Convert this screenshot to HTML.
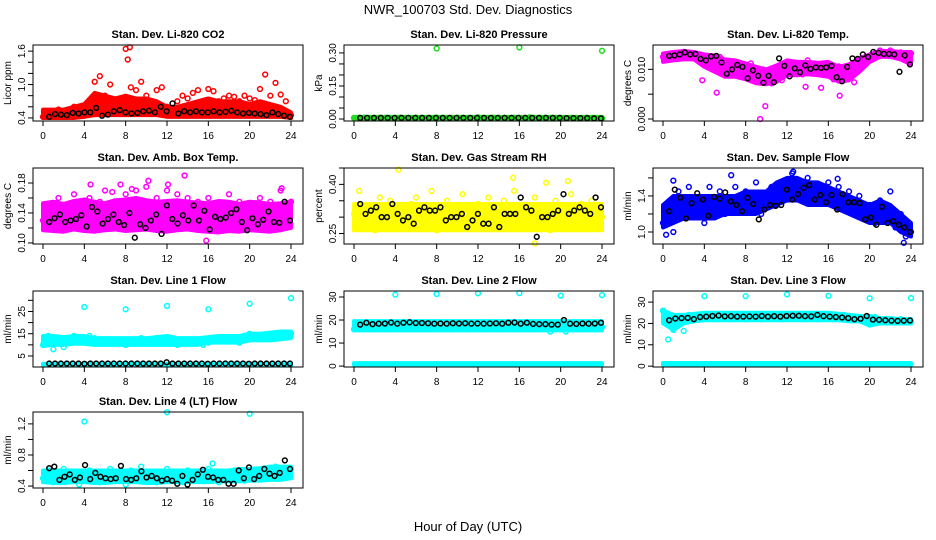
<!DOCTYPE html>
<html><head><meta charset="utf-8"><style>
body{margin:0;background:#fff;}
svg{display:block;font-family:"Liberation Sans",sans-serif;}
</style></head><body>
<svg id="chart" width="936" height="540" viewBox="0 0 936 540">
<rect width="936" height="540" fill="#fff"/>
<text x="468" y="14" text-anchor="middle" font-size="13">NWR_100703 Std. Dev. Diagnostics</text>
<text x="468" y="531" text-anchor="middle" font-size="13">Hour of Day (UTC)</text>
</svg>
<script>
// ---- data (hour-of-day values) ----
const hourTicks=[0,4,8,12,16,20,24];
// P1 CO2
const co2Lo=[.4,.4,.4,.4,.42,.45,.45,.45,.45,.45,.45,.45,.42,.42,.42,.42,.42,.42,.42,.42,.42,.42,.42,.42,.4];
const co2Hi=[.55,.55,.55,.6,.65,.85,.8,.75,.8,.75,.75,.7,.6,.6,.65,.7,.75,.7,.7,.7,.65,.7,.65,.6,.5];
const co2Pts=[.42,.5,.45,.55,.5,.48,.6,.55,.62,.5,1.05,1.15,.8,1.0,.7,.75,1.64,.95,.9,1.05,.8,.7,.9,.95,.6,.55,.7,.8,.75,.85,.9,.7,.92,.88,.7,.75,.8,.78,.7,.8,.75,.72,.92,1.18,.8,1.03,.82,.7,.45];
const co2OutX=[8.2,8.4];const co2OutY=[1.45,1.67];
const co2Blk=[.42,.47,.46,.45,.49,.48,.5,.5,.58,.44,.46,.52,.54,.5,.48,.49,.52,.53,.5,.6,.52,.66,.48,.52,.5,.52,.5,.5,.52,.5,.51,.53,.5,.48,.49,.48,.47,.45,.5,.47,.44,.42];
// P2 Pressure
const prLo=[0,0,0,0,0,0,0,0,0,0,0,0,0,0,0,0,0,0,0,0,0,0,0,0,0];
const prHi=[.01,.01,.01,.01,.01,.01,.01,.01,.01,.01,.01,.01,.01,.01,.01,.01,.01,.01,.01,.01,.01,.01,.01,.01,.01];
const prPts=[.005,.005,.006,.005,.005,.006,.005,.005,.005,.006,.005,.005,.006,.005,.005,.005,.006,.005,.005,.005,.006,.005,.005,.005,.008,.005,.005,.006,.005,.005,.005,.006,.005,.005,.008,.005,.005,.006,.005,.005,.005,.004,.005,.005,.004,.006,.005,.004,.003];
const prOutX=[8,16,24];const prOutY=[.32,.325,.31];
const prBlk=[.005,.005,.005,.005,.005,.005,.005,.005,.005,.005,.005,.005,.005,.005,.005,.005,.005,.005,.005,.005,.005,.005,.005,.005,.005,.005,.005,.005,.005,.005,.004,.004,.004,.004,.003,.003];
// P3 Li-820 temp
const tpLo=[.0115,.0118,.012,.012,.0105,.0095,.0085,.0085,.008,.0072,.007,.0075,.0088,.0088,.009,.0088,.0085,.0075,.0078,.0095,.0115,.0125,.0125,.012,.011];
const tpHi=[.0132,.0135,.0137,.0135,.013,.0128,.012,.0118,.0112,.0105,.01,.0108,.0118,.0115,.0115,.0113,.0115,.0105,.011,.0122,.013,.0137,.0137,.0135,.0135];
const tpPts=[.0125,.013,.0132,.0128,.0135,.013,.0128,.0125,.0115,.0108,.012,.0125,.0095,.0105,.009,.0085,.0095,.0112,.008,.0088,.0078,.0072,.0085,.0078,.0115,.0095,.0112,.009,.0118,.0098,.0106,.0092,.0112,.008,.0106,.0078,.0084,.0074,.0098,.0112,.0122,.0132,.0138,.0132,.0138,.0128,.0134,.0118,.0132];
const tpOutX=[3.8,5.2,9.4,9.9,17.1,13.8,15.3];const tpOutY=[.0078,.0053,0,.0026,.0047,.0065,.0063];
const tpBlk=[.0127,.0128,.013,.0134,.013,.0131,.0121,.0118,.0126,.0127,.0114,.0091,.01,.0109,.0105,.0082,.0098,.0087,.0073,.0087,.0074,.0122,.0107,.0086,.0102,.0094,.0108,.0101,.0104,.0103,.0104,.0107,.0084,.0076,.0105,.0122,.0121,.013,.0125,.0135,.0133,.0131,.0131,.013,.0095,.0128,.011];
// P4 Amb box temp
const abLo=[.117,.116,.115,.118,.116,.115,.117,.118,.116,.117,.118,.116,.115,.117,.118,.116,.115,.114,.116,.115,.117,.116,.115,.117,.12];
const abHi=[.153,.155,.152,.156,.158,.155,.153,.157,.158,.16,.157,.155,.156,.157,.155,.154,.153,.156,.155,.152,.155,.154,.152,.153,.155];
const abPts=[.13,.15,.12,.16,.12,.14,.165,.12,.15,.16,.13,.155,.17,.14,.15,.12,.165,.13,.17,.14,.175,.12,.16,.15,.17,.13,.165,.14,.16,.125,.155,.14,.16,.13,.15,.12,.165,.13,.155,.12,.15,.14,.16,.13,.155,.12,.17,.14,.155];
const abOutX=[4.6,7.5,8.6,10.2,12.1,13.7,15.8,6.7,23.1];const abOutY=[.178,.178,.172,.183,.178,.19,.103,.168,.173];
const abBlk=[.128,.133,.138,.128,.13,.132,.137,.122,.148,.142,.126,.132,.138,.128,.124,.14,.107,.125,.12,.13,.138,.112,.15,.132,.126,.137,.13,.15,.13,.143,.118,.135,.132,.134,.14,.145,.128,.117,.133,.125,.131,.142,.128,.127,.155,.13];
// P5 RH
const rhLo=[.26,.26,.26,.26,.26,.26,.26,.26,.26,.26,.26,.26,.26,.26,.26,.26,.26,.26,.26,.26,.26,.26,.26,.26,.26];
const rhHi=[.34,.34,.34,.34,.34,.34,.34,.34,.34,.34,.34,.34,.34,.34,.34,.34,.34,.34,.34,.34,.34,.34,.34,.34,.34];
const rhPts=[.31,.38,.28,.33,.26,.36,.3,.35,.27,.33,.29,.34,.36,.28,.31,.38,.26,.33,.35,.3,.27,.37,.32,.28,.34,.3,.36,.27,.32,.35,.29,.38,.33,.27,.3,.36,.29,.33,.26,.35,.31,.28,.37,.3,.34,.27,.35,.32,.3];
const rhOutX=[4.3,15.4,20.7,17.5,18.6];const rhOutY=[.445,.42,.41,.22,.405];
const rhBlk=[.34,.31,.32,.33,.3,.3,.34,.31,.29,.3,.28,.32,.33,.32,.32,.33,.29,.3,.3,.31,.27,.29,.31,.28,.28,.33,.27,.31,.31,.31,.36,.33,.32,.24,.3,.3,.31,.32,.37,.31,.32,.33,.32,.31,.36,.33];
// P6 Sample flow
const sfLo=[1.05,1.1,1.15,1.15,1.15,1.15,1.2,1.2,1.2,1.2,1.25,1.3,1.35,1.35,1.3,1.3,1.3,1.25,1.2,1.15,1.1,1.1,1.1,1.0,.95];
const sfHi=[1.3,1.4,1.4,1.4,1.4,1.4,1.4,1.4,1.45,1.45,1.45,1.55,1.6,1.6,1.55,1.55,1.5,1.45,1.4,1.35,1.3,1.35,1.3,1.2,1.1];
const sfPts=[1.1,1.3,1.0,1.45,1.25,1.5,1.2,1.35,1.1,1.5,1.3,1.45,1.2,1.3,1.5,1.25,1.45,1.35,1.55,1.2,1.4,1.5,1.3,1.45,1.55,1.65,1.5,1.4,1.6,1.35,1.5,1.4,1.55,1.3,1.5,1.35,1.45,1.2,1.4,1.15,1.3,1.1,1.35,1.2,1.45,1.05,1.2,.95,1.0];
const sfOutX=[.3,1,6.6,12.6,16.9,23.3];const sfOutY=[.97,1.57,1.63,1.67,1.59,.88];
const sfBlk=[1.23,1.47,1.38,1.15,1.32,1.43,1.36,1.18,1.39,1.37,1.44,1.34,1.3,1.23,1.38,1.31,1.14,1.25,1.3,1.29,1.3,1.47,1.36,1.42,1.49,1.52,1.36,1.41,1.33,1.41,1.25,1.42,1.33,1.33,1.32,1.14,1.16,1.08,1.28,1.1,1.12,1.08,1.05,1.0];
// P7 Line 1
const l1Lo=[9.5,10,10,10.5,10.5,10,10,10,10,10,10,10,10,10,10,10,11,11,11,11,12,12,12,12.5,13];
const l1Hi=[14,14,13.5,14,14,13,13,13,13,13,13,13.5,14,13,13,13,13.5,14,14,14,15,15,15.5,16,16];
const l1Pts=[10,14,8,13,9,12,14,13,12,14,13,12,11,12,11,12,10,12,11,13,11,12,13,11,12,13,10,11,12,11,12,10,11,12,13,12,13,12,11,14,15,13,14,13,15,14,15,14,15];
const l1OutX=[4,8,12,16,20,24];const l1OutY=[27,26,27.5,26,28.5,31];
const l1Lo2=[.8,.8,.8,.8,.8,.8,.8,.8,.8,.8,.8,.8,.8,.8,.8,.8,.8,.8,.8,.8,.8,.8,.8,.8,.8];
const l1Hi2=[1.5,1.5,1.5,1.5,1.5,1.5,1.5,1.5,1.5,1.5,1.5,1.5,1.5,1.5,1.5,1.5,1.5,1.5,1.5,1.5,1.5,1.5,1.5,1.5,1.5];
const l1Blk=[1.6,1.6,1.6,1.6,1.6,1.6,1.5,1.6,1.6,1.6,1.6,1.6,1.6,1.6,1.6,1.6,1.6,1.6,1.6,1.6,2.2,1.6,1.6,1.6,1.6,1.6,1.6,1.5,1.6,1.6,1.6,1.6,1.6,1.6,1.5,1.6,1.6,1.6,1.6,1.6,1.6,1.6];
// P8 Line 2
const l2Lo=[15.5,15.5,15.5,15.5,15.5,15.5,15.5,15.5,15.5,15.5,15.5,15.5,15.5,15.5,15.5,15.5,15.5,15.5,15.5,15.5,15.5,15.5,15.5,15.5,15.5];
const l2Hi=[19.5,19.5,19.5,19.5,19.5,19.5,19.5,19.5,19.5,19.5,19.5,19.5,19.5,19.5,19.5,19.5,19.5,19.5,19.5,19.5,19.5,19.5,19.5,19.5,19.5];
const l2Pts=[16,18,17,16,18,17,16,19,17,16,18,17,16,18,17,16,18,17,19,16,17,18,16,17,18,16,17,19,17,16,18,17,16,18,17,16,17,18,15,17,16,15,18,17,16,18,17,16,17];
const l2OutX=[4,8,12,16,20,24];const l2OutY=[31,31.3,31.6,31.7,30.6,30.8];
const l2Lo2=[.5,.5,.5,.5,.5,.5,.5,.5,.5,.5,.5,.5,.5,.5,.5,.5,.5,.5,.5,.5,.5,.5,.5,.5,.5];
const l2Hi2=[1.3,1.3,1.3,1.3,1.3,1.3,1.3,1.3,1.3,1.3,1.3,1.3,1.3,1.3,1.3,1.3,1.3,1.3,1.3,1.3,1.3,1.3,1.3,1.3,1.3];
const l2Blk=[18,18.8,18.2,18.4,18.5,18.9,18.4,18.8,19,18.7,18.7,18.6,18.4,18.5,18.4,18.6,18.5,18.6,18.4,18.5,18.4,18.5,18.6,18.4,18.8,18.9,18.4,18.8,18.3,18.2,18.2,18,18,20,18.4,18.3,18.5,18.4,18.5,18.8];
// P9 Line 3
const l3Lo=[20,17,20,21,21.5,21.5,21.5,21.5,21.5,21.5,21.5,21.5,21.5,21.5,21.5,21.5,21.5,21.5,21,21,19,20,20,20,20];
const l3Hi=[26,24,24,24.5,25,25,25,25,25,25,25,25,25,25,25,25,25,24.5,24,23.5,23.5,22.5,22.5,22,22];
const l3Pts=[26,12.5,17,22,16.5,24,23,22,24,23,22,24,23,22,24,23,22,23,24,22,23,24,23,22,23,24,23,22,24,23,22,24,23,22,23,24,22,23,22,21,19.5,23,21,22,20.5,21,22,21,21];
const l3OutX=[4,8,12,16,20,24];const l3OutY=[32.8,32.8,33.6,32.9,31.8,31.9];
const l3Lo2=[.5,.5,.5,.5,.5,.5,.5,.5,.5,.5,.5,.5,.5,.5,.5,.5,.5,.5,.5,.5,.5,.5,.5,.5,.5];
const l3Hi2=[1.5,1.5,1.5,1.5,1.5,1.5,1.5,1.5,1.5,1.5,1.5,1.5,1.5,1.5,1.5,1.5,1.5,1.5,1.5,1.5,1.5,1.5,1.5,1.5,1.5];
const l3Blk=[21.5,22.3,22.5,22.6,22,23,23.2,23.5,23.7,23.3,23.4,23.2,23.2,23.3,23.2,23.5,23.2,23.4,23.2,23.5,23.6,23.6,23.4,23.3,24,23.4,23.2,23,22.8,22.5,22,22.2,23.5,21.8,21.7,21.5,21.3,21.2,21.3,21.4];
// P10 Line 4
const l4Lo=[.45,.44,.44,.45,.45,.44,.44,.45,.45,.45,.44,.44,.45,.45,.45,.45,.45,.46,.46,.46,.47,.47,.48,.48,.5];
const l4Hi=[.6,.6,.6,.6,.6,.6,.6,.6,.6,.6,.6,.6,.6,.6,.6,.6,.6,.6,.6,.62,.62,.63,.65,.65,.65];
const l4Pts=[.5,.6,.45,.55,.62,.48,.58,.42,.55,.6,.5,.45,.58,.62,.5,.55,.42,.6,.52,.65,.48,.58,.45,.55,.62,.5,.57,.45,.6,.5,.55,.48,.62,.55,.45,.58,.5,.6,.52,.47,.6,.55,.5,.62,.55,.65,.58,.6,.62];
const l4OutX=[4,12,20,16.4];const l4OutY=[1.23,1.35,1.33,.69];
const l4Blk=[.63,.65,.48,.52,.55,.48,.51,.67,.49,.57,.52,.5,.49,.5,.66,.49,.48,.5,.59,.51,.53,.5,.47,.49,.47,.43,.53,.42,.48,.55,.61,.52,.51,.48,.48,.43,.43,.6,.5,.64,.49,.53,.62,.56,.53,.57,.73,.62];

// ---- panel config ----
const panels=[
 {name:'co2',title:'Stan. Dev. Li-820 CO2',ylab:'Licor ppm',col:0,row:0,ylim:[.345,1.71],ticks:[.4,.6,.8,1,1.2,1.4,1.6],labels:['0.4','1.0','1.6'],color:'#ff0000',bands:[[co2Lo,co2Hi]],pts:co2Pts,ox:co2OutX,oy:co2OutY,blk:co2Blk},
 {name:'pressure',title:'Stan. Dev. Li-820 Pressure',ylab:'kPa',col:1,row:0,ylim:[-.009,.336],ticks:[0,.05,.1,.15,.2,.25,.3],labels:['0.00','0.15','0.30'],color:'#22dd22',bands:[[prLo,prHi]],pts:prPts,ox:prOutX,oy:prOutY,blk:prBlk},
 {name:'li820-temp',title:'Stan. Dev. Li-820 Temp.',ylab:'degrees C',col:2,row:0,ylim:[-.0004,.0149],ticks:[0,.005,.01],labels:['0.000','0.010'],color:'#ff00ff',bands:[[tpLo,tpHi]],pts:tpPts,ox:tpOutX,oy:tpOutY,blk:tpBlk},
 {name:'amb-box-temp',title:'Stan. Dev. Amb. Box Temp.',ylab:'degrees C',col:0,row:1,ylim:[.0986,.2],ticks:[.1,.12,.14,.16,.18],labels:['0.10','0.14','0.18'],color:'#ff00ff',bands:[[abLo,abHi]],pts:abPts,ox:abOutX,oy:abOutY,blk:abBlk},
 {name:'gas-stream-rh',title:'Stan. Dev. Gas Stream RH',ylab:'percent',col:1,row:1,ylim:[.218,.45],ticks:[.25,.3,.35,.4,.45],labels:['0.25','0.40'],color:'#ffff00',bands:[[rhLo,rhHi]],pts:rhPts,ox:rhOutX,oy:rhOutY,blk:rhBlk},
 {name:'sample-flow',title:'Stan. Dev. Sample Flow',ylab:'ml/min',col:2,row:1,ylim:[.867,1.71],ticks:[1,1.2,1.4,1.6],labels:['1.0','1.4'],color:'#0000ff',bands:[[sfLo,sfHi]],pts:sfPts,ox:sfOutX,oy:sfOutY,blk:sfBlk},
 {name:'line1-flow',title:'Stan. Dev. Line 1 Flow',ylab:'ml/min',col:0,row:2,ylim:[.05,34.2],ticks:[5,10,15,20,25,30],labels:['5','15','25'],color:'#00ffff',bands:[[l1Lo,l1Hi],[l1Lo2,l1Hi2]],pts:l1Pts,ox:l1OutX,oy:l1OutY,blk:l1Blk},
 {name:'line2-flow',title:'Stan. Dev. Line 2 Flow',ylab:'ml/min',col:1,row:2,ylim:[-.4,32.6],ticks:[0,10,20,30],labels:['0','10','20','30'],color:'#00ffff',bands:[[l2Lo,l2Hi],[l2Lo2,l2Hi2]],pts:l2Pts,ox:l2OutX,oy:l2OutY,blk:l2Blk},
 {name:'line3-flow',title:'Stan. Dev. Line 3 Flow',ylab:'ml/min',col:2,row:2,ylim:[-.4,35.2],ticks:[0,10,20,30],labels:['0','10','20','30'],color:'#00ffff',bands:[[l3Lo,l3Hi],[l3Lo2,l3Hi2]],pts:l3Pts,ox:l3OutX,oy:l3OutY,blk:l3Blk},
 {name:'line4-flow',title:'Stan. Dev. Line 4 (LT) Flow',ylab:'ml/min',col:0,row:3,ylim:[.375,1.353],ticks:[.4,.6,.8,1,1.2],labels:['0.4','0.8','1.2'],color:'#00ffff',bands:[[l4Lo,l4Hi]],pts:l4Pts,ox:l4OutX,oy:l4OutY,blk:l4Blk}
];

const NS='http://www.w3.org/2000/svg';
const svg=document.getElementById('chart');
const colLeft=[33,344,653], rowTop=[45,168,291,412], BW=270, BH=76;
function mk(tag,attrs,parent){const e=document.createElementNS(NS,tag);for(const k in attrs)e.setAttribute(k,attrs[k]);parent.appendChild(e);return e;}

panels.forEach(p=>{
  const L=colLeft[p.col],T=rowTop[p.row],B=T+BH;
  const g=mk('g',{},svg);
  
  
  const xs=h=>L+10+h*(BW-22)/24;
  const ys=v=>B-(v-p.ylim[0])/(p.ylim[1]-p.ylim[0])*BH;
  const t=mk('text',{x:L+BW/2,y:T-7,'text-anchor':'middle','font-size':'11','font-weight':'bold'},g);
  t.textContent=p.title;
  
  
  // bands
  p.bands.forEach(b=>{
    const lo=b[0],hi=b[1],n=lo.length;let pts=[];
    for(let i=0;i<n;i++)pts.push(xs(i*24/(n-1))+','+ys(hi[i]));
    for(let i=n-1;i>=0;i--)pts.push(xs(i*24/(n-1))+','+ys(lo[i]));
    const poly=mk('polygon',{points:pts.join(' '),fill:p.color,stroke:p.color,'stroke-width':'4','stroke-linejoin':'round'},g);
    
    
  });
  // scattered points
  p.pts.forEach((v,i)=>{
    const c=mk('circle',{cx:xs(i*24/(p.pts.length-1)),cy:ys(v),r:2.4,fill:'none',stroke:p.color,'stroke-width':1.5},g);
    
    
  });
  p.ox.forEach((h,i)=>{
    const c=mk('circle',{cx:xs(h),cy:ys(p.oy[i]),r:2.4,fill:'none',stroke:p.color,'stroke-width':1.5},g);
    
    
  });
  p.blk.forEach((v,i)=>{
    const c=mk('circle',{cx:xs(0.6+i*23.3/(p.blk.length-1)),cy:ys(v),r:2.4,fill:'none',stroke:'#000','stroke-width':1.5},g);
    
    
  });
  // box
  const box=mk('rect',{x:L,y:T,width:BW,height:BH,fill:'none',stroke:'#000','stroke-width':1},g);
  
  
  // x axis
  hourTicks.forEach(h=>{
    mk('line',{x1:xs(h),x2:xs(h),y1:B,y2:B+5,stroke:'#000'},g);
    const tx=mk('text',{x:xs(h),y:B+18,'text-anchor':'middle','font-size':'10'},g);
    tx.textContent=h;
    
    
  });
  // y axis
  p.ticks.forEach(v=>{mk('line',{x1:L-5,x2:L,y1:ys(v),y2:ys(v),stroke:'#000'},g);});
  p.labels.forEach(s=>{
    const v=parseFloat(s),y=ys(v);
    const ty=mk('text',{x:L-8,y:y,'text-anchor':'middle','font-size':'10',transform:'rotate(-90 '+(L-8)+' '+y+')'},g);
    ty.textContent=s;
    
    
  });
  const yl=mk('text',{x:L-22,y:T+BH/2,'text-anchor':'middle','font-size':'10',transform:'rotate(-90 '+(L-22)+' '+(T+BH/2)+')'},g);
  yl.textContent=p.ylab;
  
  
});
</script>
</body></html>
